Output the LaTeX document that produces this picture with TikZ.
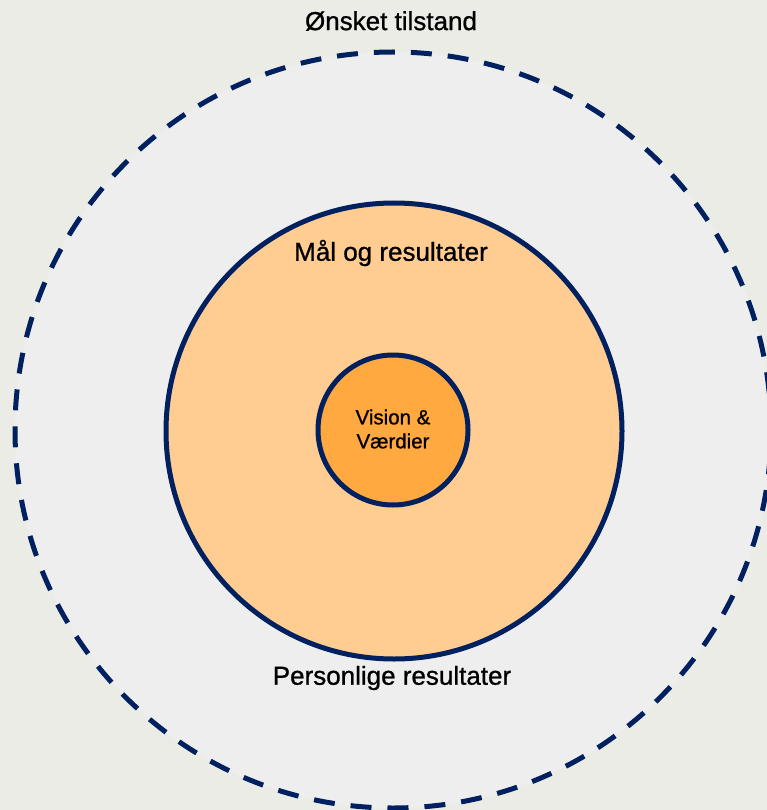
\documentclass[tikz,border=0pt]{standalone}
\usepackage{fontspec}
\setmainfont[FakeBold=0.9]{Liberation Sans}
\definecolor{navy}{RGB}{0,32,96}
\definecolor{bgcol}{RGB}{236,236,231}
\definecolor{outerfill}{RGB}{238,238,238}
\definecolor{midfill}{RGB}{255,205,145}
\definecolor{innerfill}{RGB}{255,169,64}
\tikzset{
  ring/.style={circle, inner sep=0pt, draw=navy, line width=5pt},
  outerring/.style={ring, fill=outerfill, dash pattern=on 21pt off 16pt},
  midring/.style={ring, fill=midfill},
  innerring/.style={ring, fill=innerfill},
  bigtext/.style={font=\fontsize{26}{30}\selectfont, text=black},
  smalltext/.style={font=\fontsize{20.5}{24}\selectfont, text=black, align=center},
}
\begin{document}
\begin{tikzpicture}[x=1pt,y=-1pt]
\useasboundingbox (0,0) rectangle (767,810);
\fill[bgcol] (0,0) rectangle (767,810);
\begin{scope}
\clip (0,0) rectangle (767,810);
\node[outerring, minimum size=756pt] (outer) at (393,430) {};
\end{scope}
\node[midring, minimum size=456pt] (mid) at (394,431) {};
\node[innerring, minimum size=150pt] (inner) at (393,430) {};
\node[smalltext] (innerlabel) at (393,429) {Vision \&\\Værdier};
\node[bigtext] (toplabel) at (391,21) {Ønsket tilstand};
\node[bigtext] (midlabel) at (391,253) {Mål og resultater};
\node[bigtext] (botlabel) at (392,678) {Personlige resultater};
\end{tikzpicture}
\end{document}
